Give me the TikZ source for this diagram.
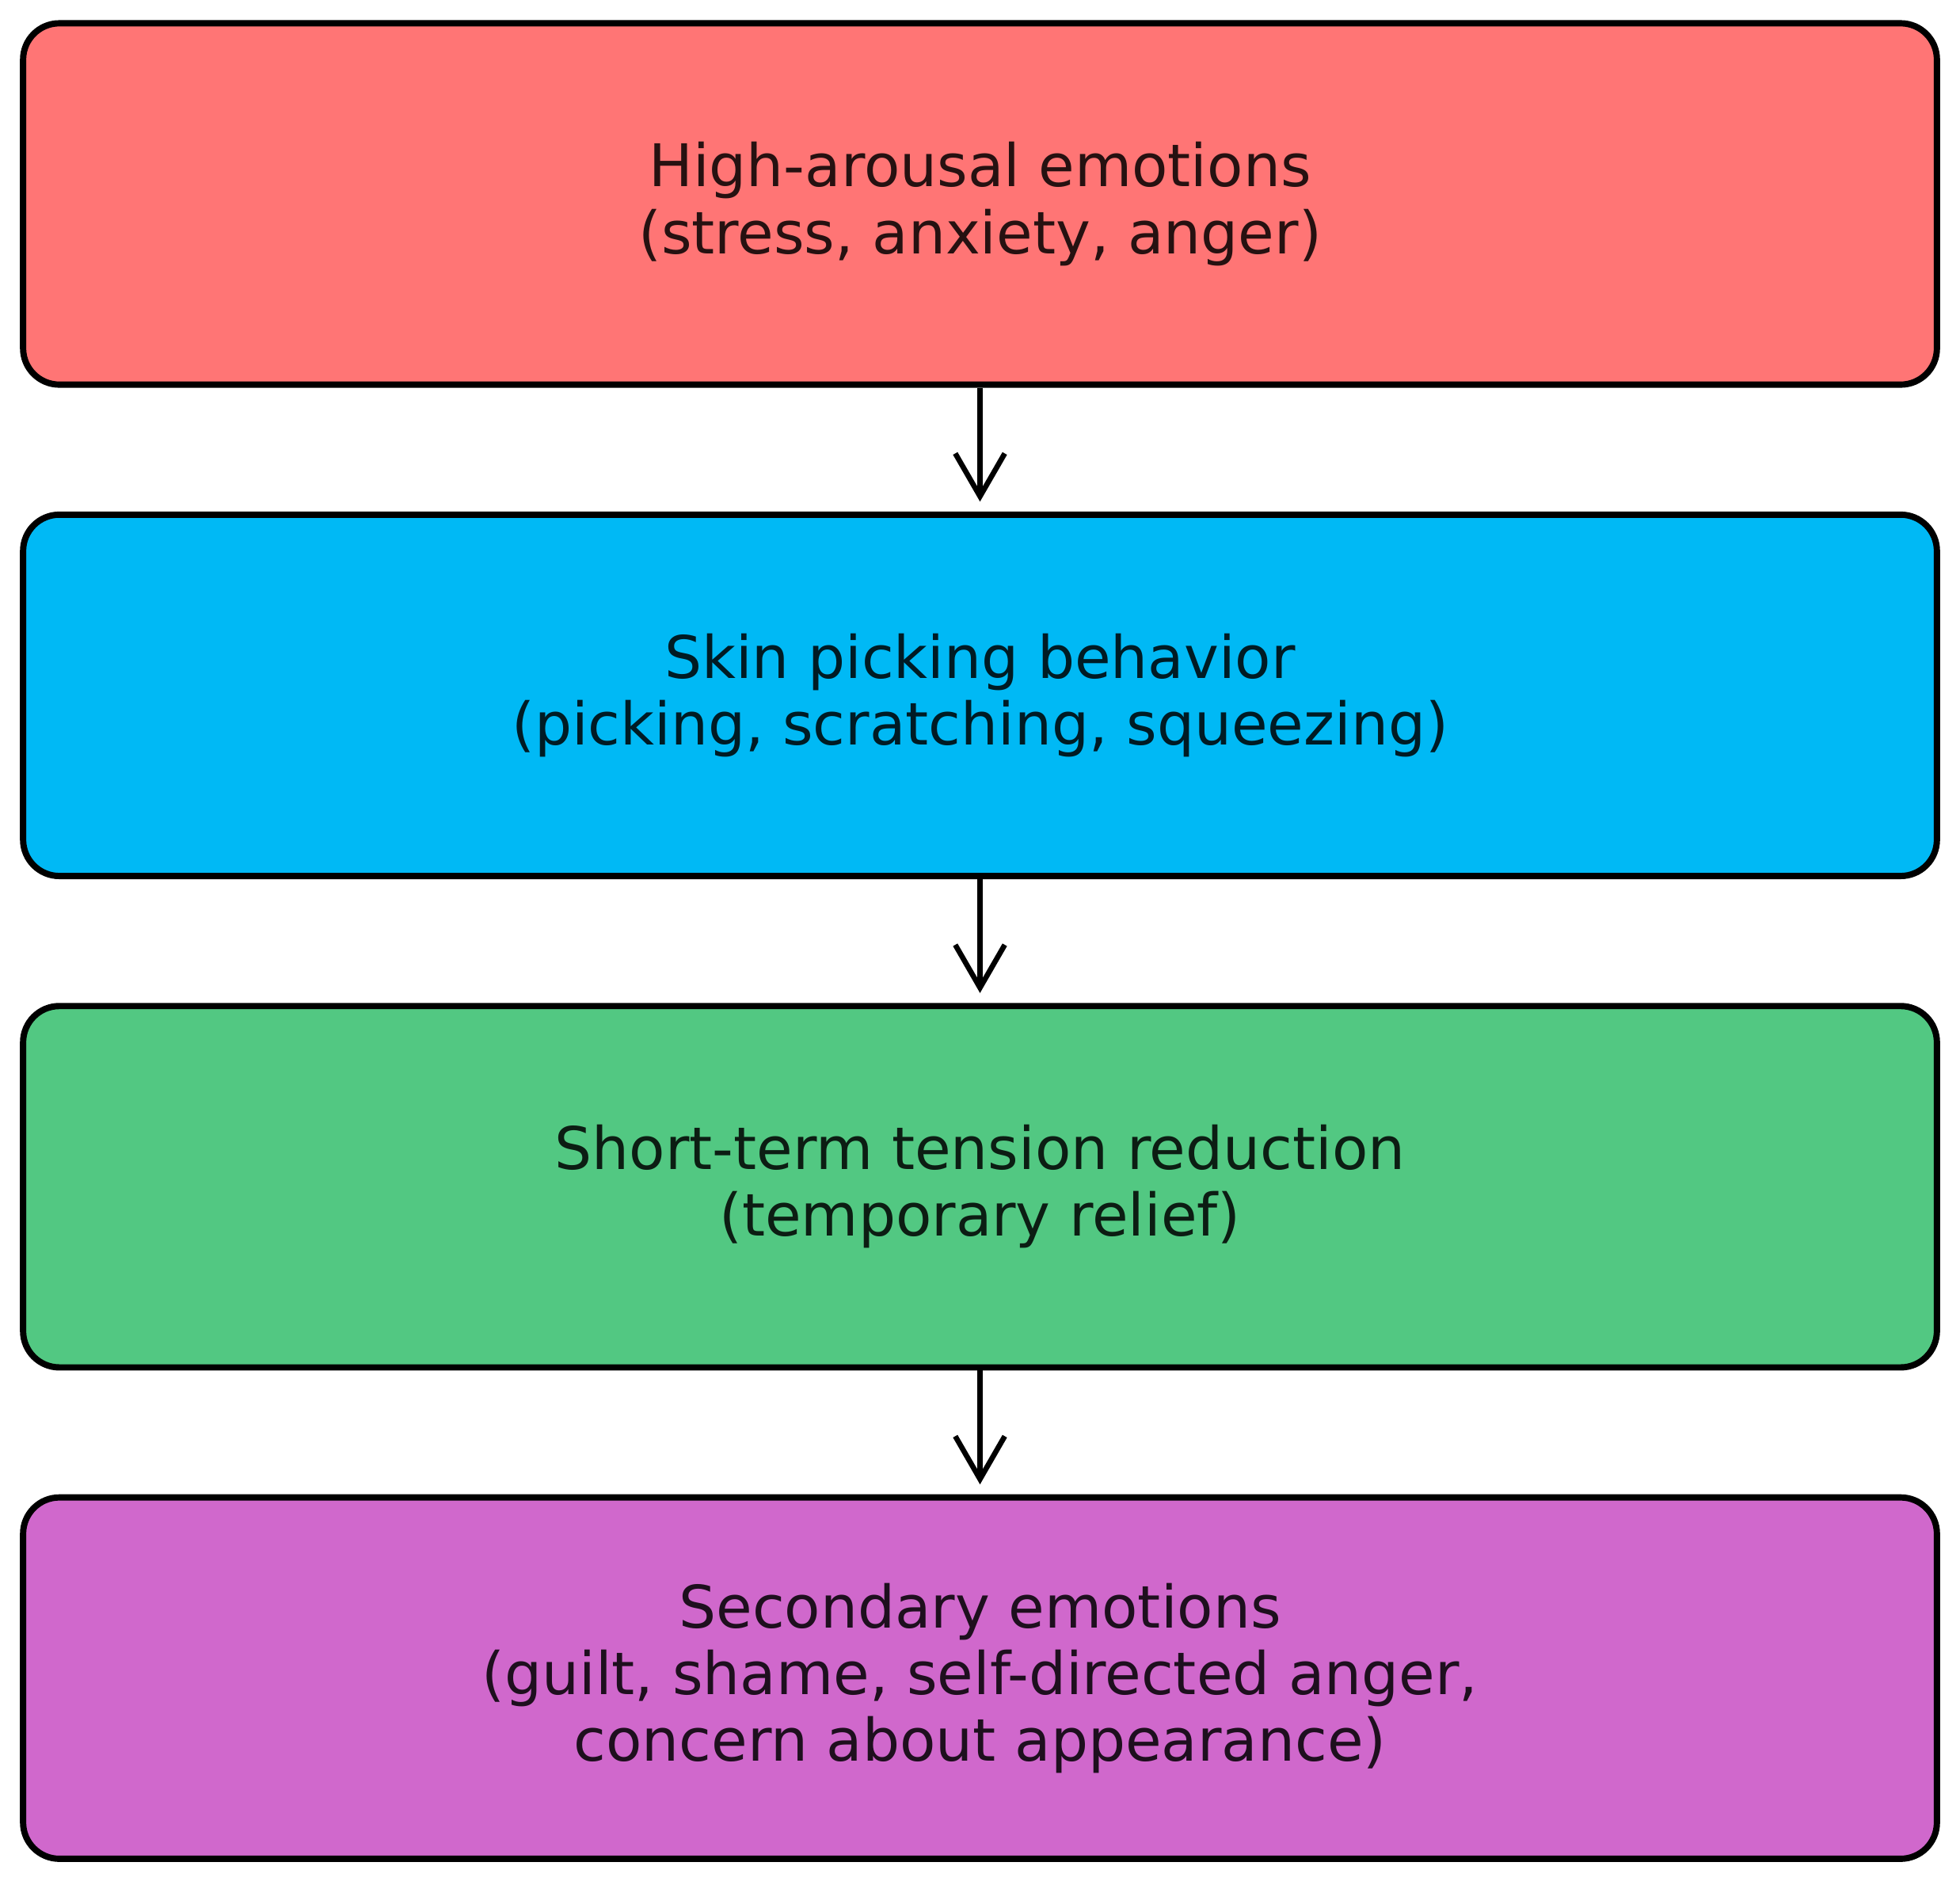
\documentclass[tikz,border=0pt]{standalone}
\usepackage{fontspec}
\setmainfont{DejaVu Sans}
\usetikzlibrary{positioning, arrows.meta}
\definecolor{arousalred}{HTML}{FF7575}
\definecolor{pickblue}{HTML}{00B9F5}
\definecolor{reliefgreen}{HTML}{52C882}
\definecolor{shamepurple}{HTML}{D068CC}
\tikzset{
  stage/.style={draw=black, line width=1.9pt, rounded corners=11pt,
    minimum width=580pt, minimum height=109.5pt, align=center,
    text opacity=0.85, font=\fontsize{17.8}{20.2}\selectfont},
  flow/.style={-{Straight Barb[length=13pt, width=15pt, line width=1.6pt]},
    line width=1.6pt, shorten >=3pt}}

\begin{document}
\begin{tikzpicture}[node distance=37.5pt]
\useasboundingbox (0,0) rectangle (594pt,-571pt);
\node[stage, fill=arousalred] (high) at (297pt,-61.8pt)
  {High-arousal emotions\\(stress, anxiety, anger)};
\node[stage, fill=pickblue, below=of high] (skin)
  {Skin picking behavior\\(picking, scratching, squeezing)};
\node[stage, fill=reliefgreen, below=of skin] (relief)
  {Short-term tension reduction\\(temporary relief)};
\node[stage, fill=shamepurple, below=of relief] (second)
  {Secondary emotions\\(guilt, shame, self-directed anger,\\concern about appearance)};
\draw[flow] (high) -- (skin);
\draw[flow] (skin) -- (relief);
\draw[flow] (relief) -- (second);
\end{tikzpicture}
\end{document}
